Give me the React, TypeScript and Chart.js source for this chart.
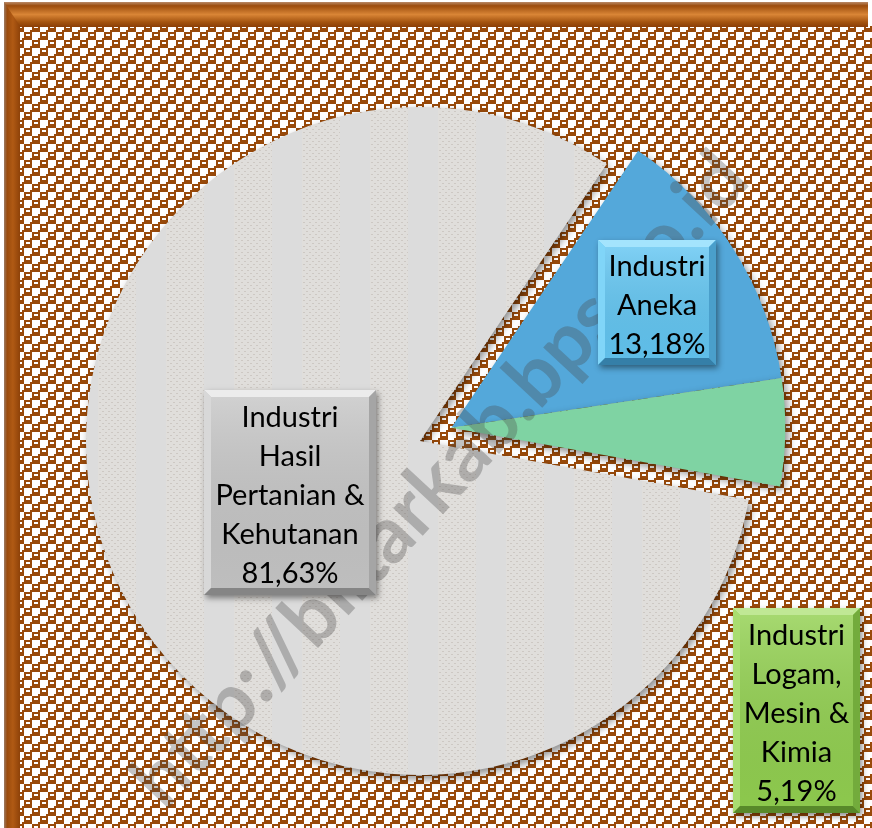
import React, { useEffect, useRef } from "react";
import { Chart, registerables } from "chart.js";

Chart.register(...registerables);

// ---- data ----
const categories: string[][] = [
  ["Industri", "Aneka"],
  ["Industri", "Logam,", "Mesin &", "Kimia"],
  ["Industri", "Hasil", "Pertanian &", "Kehutanan"],
];
const shares: number[] = [13.18, 5.19, 81.63];
const explodedSlices: number[] = [0, 1];
const watermarkText = "http://blitarkab.bps.go.id";

// ---- styles ----
const W = 872;
const H = 828;
const BROWN = "#994a0a";
const sliceColors = ["#54a8da", "#7fd3a3", null];
const boxStyles = [
  { x: 598, y: 240, w: 118, h: 125, base: "#63c6f2", top: "#a4e4fd", left: "#80d5f8", right: "#4a9fcb", bottom: "#357fa8" },
  { x: 733, y: 608, w: 127, h: 205, base: "#92d050", top: "#c0e895", left: "#a9dd70", right: "#73ab3c", bottom: "#58892a" },
  { x: 204, y: 390, w: 172, h: 205, base: "#c6c6c6", top: "#ececec", left: "#d8d8d8", right: "#a5a5a5", bottom: "#858585" },
];

const TILE = [
  "WWWWBBBB",
  "WWWWBWWB",
  "WWWWBBBB",
  "WWWBBBBB",
  "BBBBWWWW",
  "BWWBWWWW",
  "BBBBWWWW",
  "BBBBWWWB",
];

function makeChecker(): HTMLCanvasElement {
  const c = document.createElement("canvas");
  const u = 2;
  c.width = 8 * u;
  c.height = 8 * u;
  const g = c.getContext("2d")!;
  g.fillStyle = "#ffffff";
  g.fillRect(0, 0, c.width, c.height);
  g.fillStyle = BROWN;
  TILE.forEach((row, r) => {
    for (let k = 0; k < row.length; k++) {
      if (row[k] === "B") g.fillRect(k * u, r * u, u, u);
    }
  });
  return c;
}

function makeGrayTexture(): HTMLCanvasElement {
  const c = document.createElement("canvas");
  c.width = 68;
  c.height = 6;
  const g = c.getContext("2d")!;
  g.fillStyle = "#dcdcdc";
  g.fillRect(0, 0, 68, 6);
  g.fillStyle = "#e0dedb";
  g.fillRect(30, 0, 38, 6);
  g.fillStyle = "rgba(170,160,152,0.35)";
  for (let x = 31; x < 68; x += 6) {
    g.fillRect(x, 0, 2, 1);
    if (x + 3 < 68) g.fillRect(x + 3, 3, 2, 1);
  }
  return c;
}

function pctText(v: number) {
  return v.toFixed(2).replace(".", ",") + "%";
}

function bevelBox(ctx: CanvasRenderingContext2D, s: any) {
  const { x, y, w, h } = s;
  const b = 7;
  ctx.save();
  ctx.shadowColor = "rgba(0,0,0,0.45)";
  ctx.shadowBlur = 6;
  ctx.shadowOffsetX = 2;
  ctx.shadowOffsetY = 3;
  ctx.fillStyle = s.base;
  ctx.fillRect(x, y, w, h);
  ctx.restore();
  const poly = (pts: number[][], col: string) => {
    ctx.beginPath();
    ctx.moveTo(pts[0][0], pts[0][1]);
    for (let i = 1; i < pts.length; i++) ctx.lineTo(pts[i][0], pts[i][1]);
    ctx.closePath();
    ctx.fillStyle = col;
    ctx.fill();
  };
  poly([[x, y], [x + w, y], [x + w - b, y + b], [x + b, y + b]], s.top);
  poly([[x, y], [x + b, y + b], [x + b, y + h - b], [x, y + h]], s.left);
  poly([[x + w, y], [x + w, y + h], [x + w - b, y + h - b], [x + w - b, y + b]], s.right);
  poly([[x, y + h], [x + b, y + h - b], [x + w - b, y + h - b], [x + w, y + h]], s.bottom);
  const gr = ctx.createLinearGradient(0, y + b, 0, y + h - b);
  gr.addColorStop(0, "rgba(255,255,255,0.18)");
  gr.addColorStop(1, "rgba(0,0,0,0.04)");
  ctx.fillStyle = gr;
  ctx.fillRect(x + b, y + b, w - 2 * b, h - 2 * b);
}

const backgroundPlugin = {
  id: "frameBackground",
  beforeDraw(chart: any) {
    const ctx: CanvasRenderingContext2D = chart.ctx;
    ctx.save();
    ctx.fillStyle = "#ffffff";
    ctx.fillRect(0, 0, W, H);
    ctx.fillStyle = ctx.createPattern(makeChecker(), "repeat")!;
    ctx.fillRect(20, 26, W - 20, H - 26);
    // top band
    const tg = ctx.createLinearGradient(0, 2, 0, 27);
    tg.addColorStop(0, "#b98a68");
    tg.addColorStop(0.15, "#9c4d0e");
    tg.addColorStop(0.5, "#d98536");
    tg.addColorStop(0.8, "#a4540f");
    tg.addColorStop(1, "#8a3f08");
    ctx.fillStyle = tg;
    ctx.fillRect(4, 2, 864, 25);
    // left band
    const lg = ctx.createLinearGradient(4, 0, 20, 0);
    lg.addColorStop(0, "#9c7a62");
    lg.addColorStop(0.2, "#9a4b0c");
    lg.addColorStop(0.55, "#b05a14");
    lg.addColorStop(1, "#8e4209");
    ctx.fillStyle = lg;
    ctx.beginPath();
    ctx.moveTo(4, 2);
    ctx.lineTo(20, 26);
    ctx.lineTo(20, H);
    ctx.lineTo(4, H);
    ctx.closePath();
    ctx.fill();
    ctx.restore();
  },
};

const explodePlugin = {
  id: "explodeGroup",
  afterDatasetsUpdate(chart: any) {
    const meta = chart.getDatasetMeta(0);
    const d = 34;
    const a0 = meta.data[explodedSlices[0]].startAngle;
    const a1 = meta.data[explodedSlices[explodedSlices.length - 1]].endAngle;
    const mid = (a0 + a1) / 2;
    explodedSlices.forEach((i) => {
      const el = meta.data[i];
      el.x += Math.cos(mid) * d;
      el.y += Math.sin(mid) * d;
    });
  },
};

const shadowPlugin = {
  id: "pieShadow",
  beforeDatasetsDraw(chart: any) {
    const ctx = chart.ctx;
    ctx.save();
    ctx.shadowColor = "rgba(0,0,0,0.45)";
    ctx.shadowBlur = 9;
    ctx.shadowOffsetX = 3;
    ctx.shadowOffsetY = 4;
  },
  afterDatasetsDraw(chart: any) {
    chart.ctx.restore();
  },
};

const labelPlugin = {
  id: "boxLabels",
  afterDraw(chart: any) {
    const ctx: CanvasRenderingContext2D = chart.ctx;
    // watermark
    ctx.save();
    ctx.translate(440, 480);
    ctx.rotate((-47 * Math.PI) / 180);
    ctx.font = "bold 60px Lato";
    const tw = ctx.measureText(watermarkText).width;
    const fs = 60 * (860 / tw);
    ctx.font = `bold ${fs.toFixed(1)}px Lato`;
    ctx.fillStyle = "rgba(70,70,70,0.32)";
    ctx.textAlign = "center";
    ctx.textBaseline = "middle";
    ctx.fillText(watermarkText, 0, 0);
    ctx.restore();

    ctx.save();
    categories.forEach((lines, i) => {
      const s = boxStyles[i];
      bevelBox(ctx, s);
      const all = [...lines, pctText(shares[i])];
      const lh = 39;
      const cx = s.x + s.w / 2;
      const cy = s.y + s.h / 2 + 3;
      ctx.font = "29px Lato";
      ctx.fillStyle = "#000000";
      ctx.textAlign = "center";
      ctx.textBaseline = "middle";
      all.forEach((t, k) => {
        ctx.fillText(t, cx, cy + (k - (all.length - 1) / 2) * lh);
      });
    });
    ctx.restore();
  },
};

export default function App() {
  const ref = useRef<HTMLCanvasElement>(null);
  useEffect(() => {
    const canvas = ref.current!;
    const ctx = canvas.getContext("2d")!;
    const grayPattern = ctx.createPattern(makeGrayTexture(), "repeat")!;
    const colors = sliceColors.map((c) => c || grayPattern);
    const chart = new Chart(canvas, {
      type: "pie",
      data: {
        labels: categories.map((l) => l.join(" ")),
        datasets: [
          {
            data: shares,
            backgroundColor: colors as any,
            borderWidth: 0,
          },
        ],
      },
      options: {
        animation: false,
        responsive: false,
        events: [],
        rotation: 34,
        layout: { padding: { left: 86, right: 118, top: 107, bottom: 53 } },
        plugins: {
          legend: { display: false },
          tooltip: { enabled: false },
        },
      },
      plugins: [backgroundPlugin, explodePlugin, shadowPlugin, labelPlugin],
    });
    return () => chart.destroy();
  }, []);
  return (
    <div style={{ position: "fixed", left: 0, top: 0, width: W, height: H, background: "#fff" }}>
      <canvas ref={ref} width={W} height={H} style={{ display: "block", width: W, height: H }} />
    </div>
  );
}
